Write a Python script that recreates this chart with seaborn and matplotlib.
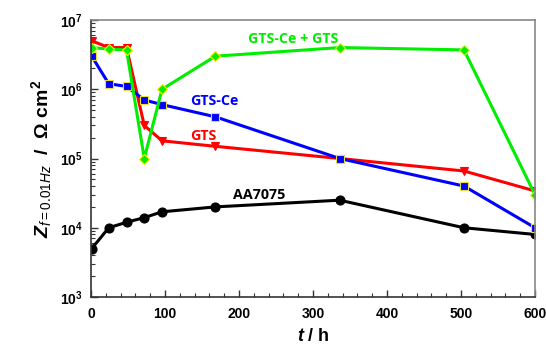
import numpy as np
import pandas as pd
import matplotlib
matplotlib.use("Agg")
import matplotlib.pyplot as plt
import seaborn as sns
from matplotlib.ticker import FixedLocator, FixedFormatter, MultipleLocator, LogLocator, NullFormatter

# ---- data ----
time_h = [1, 24, 48, 72, 96, 168, 336, 504, 600]
aa7075 = [5.0e3, 1.0e4, 1.2e4, 1.4e4, 1.7e4, 2.0e4, 2.5e4, 1.0e4, 8.0e3]
gts = [5.0e6, 4.0e6, 4.0e6, 3.0e5, 1.8e5, 1.5e5, 1.0e5, 6.6e4, 3.4e4]
gts_ce = [3.0e6, 1.2e6, 1.1e6, 7.0e5, 6.0e5, 4.0e5, 1.0e5, 4.0e4, 1.0e4]
gts_ce_gts = [4.0e6, 3.8e6, 3.7e6, 1.0e5, 1.0e6, 3.0e6, 4.0e6, 3.7e6, 3.0e4]
series_names = ["AA7075", "GTS", "GTS-Ce", "GTS-Ce + GTS"]
x_ticks = [0, 100, 200, 300, 400, 500, 600]
y_ticks = [1e3, 1e4, 1e5, 1e6, 1e7]
y_tick_labels = [r"$\mathbf{10^{3}}$", r"$\mathbf{10^{4}}$", r"$\mathbf{10^{5}}$",
                 r"$\mathbf{10^{6}}$", r"$\mathbf{10^{7}}$"]

sns.set_theme(style="ticks")
plt.rcParams["font.family"] = ["Liberation Sans", "DejaVu Sans"]
plt.rcParams["mathtext.fontset"] = "custom"
plt.rcParams["mathtext.rm"] = "Liberation Sans"
plt.rcParams["mathtext.bf"] = "Liberation Sans:bold"
plt.rcParams["mathtext.it"] = "Liberation Sans:italic"
plt.rcParams["mathtext.bfit"] = "Liberation Sans:bold:italic"
for k in ["text.color", "axes.labelcolor", "xtick.labelcolor", "ytick.labelcolor"]:
    plt.rcParams[k] = "black"

fig = plt.figure(figsize=(5.46, 3.47), dpi=100)
ax = fig.add_axes([91/546, 1-297/347, (535-91)/546, (297-20)/347])

styles = {
    "AA7075": dict(color="black", marker="o", ms=6.5, mec="black", mfc="black"),
    "GTS": dict(color="#ff0000", marker="v", ms=6, mec="#ff0000", mfc="#ff0000"),
    "GTS-Ce": dict(color="#0000ff", marker="s", ms=5.5, mec="#e8e040", mfc="#0000ff"),
    "GTS-Ce + GTS": dict(color="#00ee00", marker="D", ms=5.5, mec="#f0f000", mfc="#00ee00"),
}
data = {"AA7075": aa7075, "GTS": gts, "GTS-Ce": gts_ce, "GTS-Ce + GTS": gts_ce_gts}

for name in series_names:
    st = styles[name]
    df = pd.DataFrame({"t": time_h, "Z": data[name]})
    sns.lineplot(data=df, x="t", y="Z", ax=ax, color=st["color"], lw=2.2,
                 marker=st["marker"], markersize=st["ms"], markeredgecolor=st["mec"],
                 markerfacecolor=st["mfc"], markeredgewidth=0.8)

ax.set_yscale("log")
ax.set_xlim(0, 600)
ax.set_ylim(1e3, 1e7)
ax.xaxis.set_major_locator(FixedLocator(x_ticks))
ax.xaxis.set_minor_locator(MultipleLocator(20))
ax.yaxis.set_major_locator(FixedLocator(y_ticks))
ax.yaxis.set_major_formatter(FixedFormatter(y_tick_labels))
ax.yaxis.set_minor_locator(LogLocator(base=10, subs=np.arange(2, 10)))
ax.yaxis.set_minor_formatter(NullFormatter())
ax.tick_params(axis="both", which="major", direction="in", length=5, width=1, color="#333333",
               labelsize=10, pad=6, labelcolor="black")
ax.tick_params(axis="x", which="major", pad=7)
ax.tick_params(axis="both", which="minor", direction="in", length=3, width=0.8, color="#333333")
for lab in ax.get_xticklabels():
    lab.set_fontweight("bold")
for s in ["left", "bottom"]:
    ax.spines[s].set_color("#333333")
    ax.spines[s].set_linewidth(1.2)
for s in ["top", "right"]:
    ax.spines[s].set_color("#888888")
    ax.spines[s].set_linewidth(1.2)

ax.set_xlabel(r"$\mathbfit{t}$ / h", fontsize=13, fontweight="bold", labelpad=5, color="black")
ax.set_ylabel(r"$\mathbfit{Z}_{\mathit{f=0.01Hz}}$  /  $\mathbf{\Omega}$ cm$^{\mathbf{2}}$",
              fontsize=14, fontweight="bold", labelpad=4, color="black")

lab_font = ["Open Sans", "DejaVu Sans"]
ax.text(273, 5.3e6, "GTS-Ce + GTS", color="#00ee00", fontsize=10.3, fontweight="bold",
        ha="center", va="center", family=lab_font)
ax.text(167, 6.7e5, "GTS-Ce", color="#0000ff", fontsize=10.3, fontweight="bold",
        ha="center", va="center", family=lab_font)
ax.text(152, 2.1e5, "GTS", color="#ff0000", fontsize=10.3, fontweight="bold",
        ha="center", va="center", family=lab_font)
ax.text(227, 3.0e4, "AA7075", color="black", fontsize=10.3, fontweight="bold",
        ha="center", va="center", family=lab_font)

fig.savefig("out.png", dpi=100)
